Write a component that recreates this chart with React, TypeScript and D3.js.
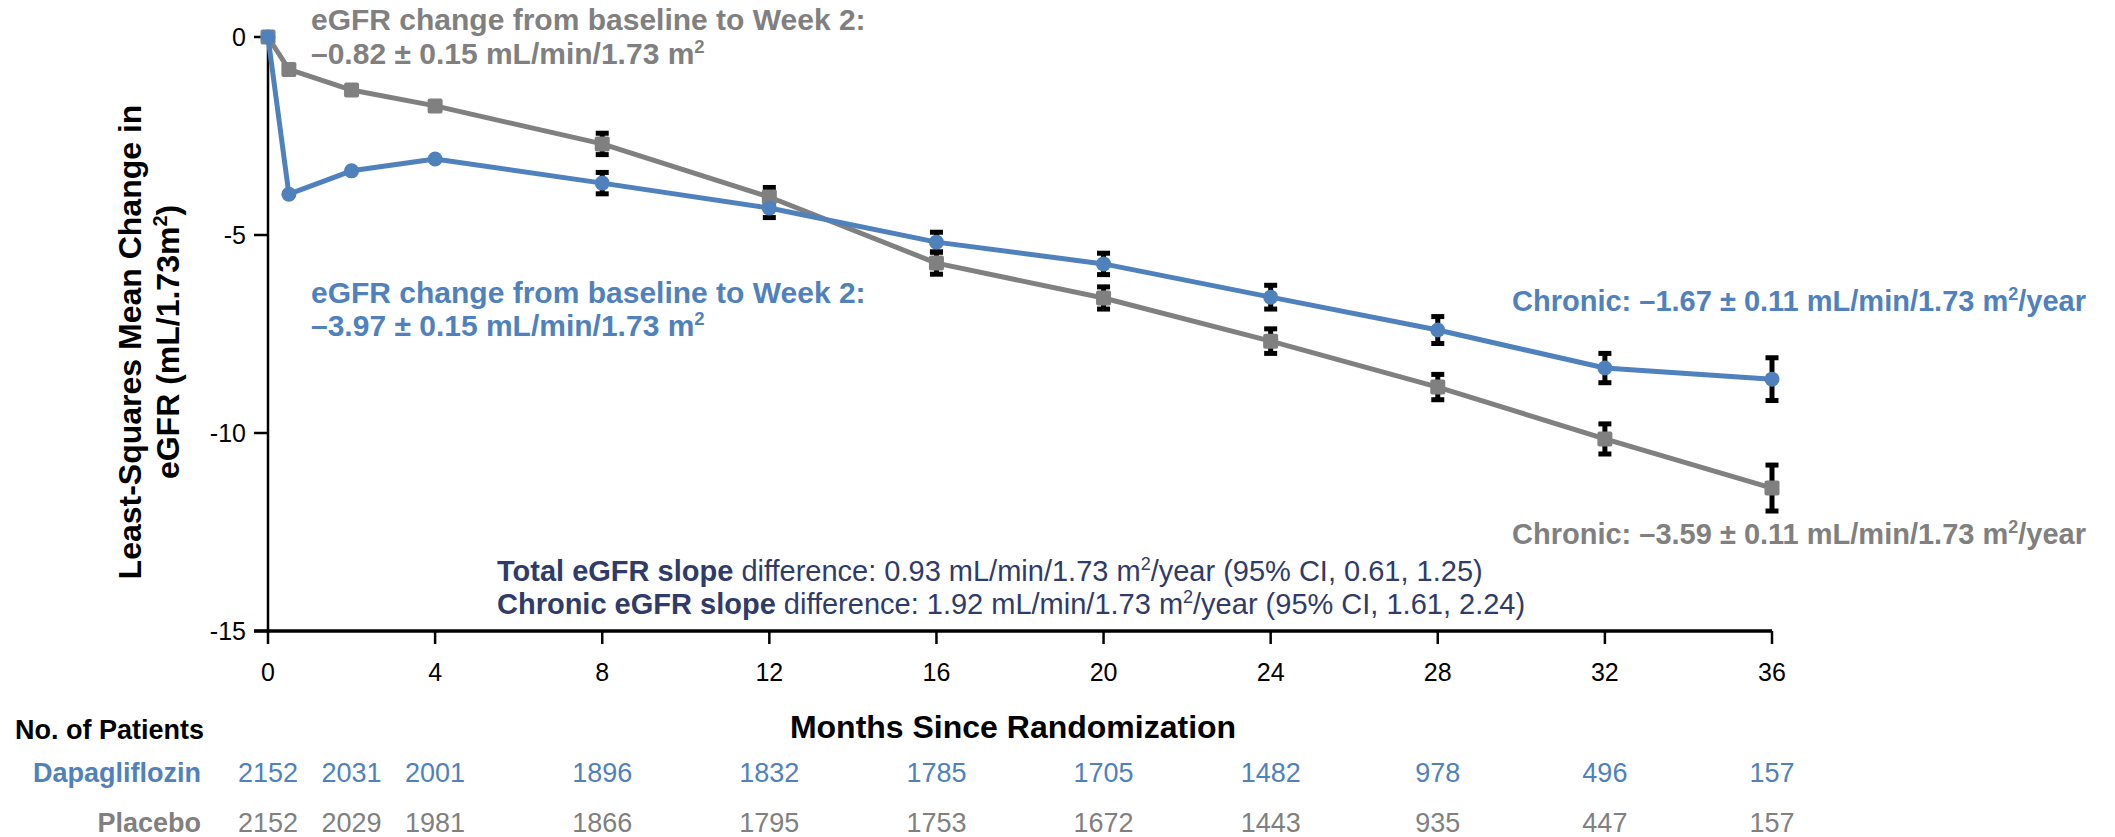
import React from "react";
import * as d3 from "d3";

// Visit months (0.5 = week 2)
const months = [0, 0.5, 2, 4, 8, 12, 16, 20, 24, 28, 32, 36];

// Least-squares mean change in eGFR and error half-widths (0 = no bar shown)
const placeboMean = [0, -0.82, -1.34, -1.74, -2.7, -4.04, -5.71, -6.59, -7.68, -8.84, -10.15, -11.39];
const placeboErr = [0, 0, 0, 0, 0.27, 0.24, 0.28, 0.28, 0.31, 0.32, 0.38, 0.58];
const dapaMean = [0, -3.97, -3.38, -3.08, -3.69, -4.32, -5.18, -5.73, -6.57, -7.4, -8.36, -8.64];
const dapaErr = [0, 0, 0, 0, 0.27, 0.24, 0.25, 0.27, 0.3, 0.34, 0.37, 0.54];

// Axis ticks
const xTicks = [0, 4, 8, 12, 16, 20, 24, 28, 32, 36];
const yTicks = [0, -5, -10, -15];

// Patients at risk
const countMonths = [0, 2, 4, 8, 12, 16, 20, 24, 28, 32, 36];
const dapaCounts = [2152, 2031, 2001, 1896, 1832, 1785, 1705, 1482, 978, 496, 157];
const placeboCounts = [2152, 2029, 1981, 1866, 1795, 1753, 1672, 1443, 935, 447, 157];

const BLUE = "#4F81BD";
const GRAY = "#808080";
const NAVY = "#2F3B68";
const FONT = "'Liberation Sans', Arial, sans-serif";

const W = 2115;
const H = 837;

const x = d3.scaleLinear().domain([0, 36]).range([268, 1772]);
const y = d3.scaleLinear().domain([-15, 0]).range([631, 37]);

type Pt = { m: number; v: number; e: number };
const toPts = (vals: number[], errs: number[]): Pt[] =>
  months.map((m, i) => ({ m, v: vals[i], e: errs[i] }));

const placebo = toPts(placeboMean, placeboErr);
const dapa = toPts(dapaMean, dapaErr);

const line = d3
  .line<Pt>()
  .x((d) => x(d.m))
  .y((d) => y(d.v));

// Superscript "2" followed by the rest of the run back on the baseline
function Sup({ fs, rest }: { fs: number; rest?: string }) {
  const shift = fs * 0.38;
  return (
    <>
      <tspan dy={-shift} fontSize={fs * 0.62}>
        2
      </tspan>
      {rest ? <tspan dy={shift}>{rest}</tspan> : null}
    </>
  );
}

function ErrorBars({ pts }: { pts: Pt[] }) {
  return (
    <g>
      {pts
        .filter((d) => d.e > 0)
        .map((d, i) => {
          const cx = x(d.m);
          const y1 = y(d.v + d.e);
          const y2 = y(d.v - d.e);
          return (
            <g key={i}>
              <line x1={cx} x2={cx} y1={y1} y2={y2} stroke="#000" strokeWidth={5} />
              <rect x={cx - 6.5} y={y1 - 2.5} width={13} height={5} fill="#000" />
              <rect x={cx - 6.5} y={y2 - 2.5} width={13} height={5} fill="#000" />
            </g>
          );
        })}
    </g>
  );
}

export default function App() {
  const annFs = 30;
  const chrFs = 29;
  return (
    <svg
      width={W}
      height={H}
      viewBox={`0 0 ${W} ${H}`}
      style={{ position: "absolute", left: 0, top: 0, background: "#fff" }}
      fontFamily={FONT}
    >
      <rect width={W} height={H} fill="#fff" />

      {/* Y axis */}
      <line x1={x(0)} x2={x(0)} y1={y(0) - 2} y2={y(-15)} stroke="#000" strokeWidth={2.5} />
      {yTicks.map((t) => (
        <g key={t}>
          <line x1={x(0) - 14} x2={x(0)} y1={y(t)} y2={y(t)} stroke="#000" strokeWidth={2.5} />
          <text x={x(0) - 22} y={y(t) + 9} textAnchor="end" fontSize={25} fill="#000">
            {t}
          </text>
        </g>
      ))}

      {/* X axis */}
      <line x1={x(0) - 14} x2={x(36)} y1={y(-15)} y2={y(-15)} stroke="#000" strokeWidth={3.5} />
      {xTicks.map((t) => (
        <g key={t}>
          <line x1={x(t)} x2={x(t)} y1={y(-15)} y2={y(-15) + 13} stroke="#000" strokeWidth={2.5} />
          <text x={x(t)} y={681} textAnchor="middle" fontSize={25} fill="#000">
            {t}
          </text>
        </g>
      ))}

      {/* Axis titles */}
      <text
        transform={`translate(141, 342) rotate(-90)`}
        textAnchor="middle"
        fontSize={32}
        fontWeight="bold"
        fill="#000"
      >
        Least-Squares Mean Change in
      </text>
      <text
        transform={`translate(179, 342) rotate(-90)`}
        textAnchor="middle"
        fontSize={32}
        fontWeight="bold"
        fill="#000"
      >
        eGFR (mL/1.73m
        <Sup fs={32} rest=")" />
      </text>
      <text x={1013} y={738} textAnchor="middle" fontSize={32} fontWeight="bold" fill="#000">
        Months Since Randomization
      </text>

      {/* Error bars under the series */}
      <ErrorBars pts={placebo} />
      <ErrorBars pts={dapa} />

      {/* Placebo series */}
      <path d={line(placebo) ?? ""} fill="none" stroke={GRAY} strokeWidth={5} strokeLinejoin="round" />
      {placebo.map((d, i) => (
        <rect
          key={i}
          x={x(d.m) - 7.5}
          y={y(d.v) - 7.5}
          width={15}
          height={15}
          rx={2}
          fill={GRAY}
        />
      ))}

      {/* Dapagliflozin series */}
      <path d={line(dapa) ?? ""} fill="none" stroke={BLUE} strokeWidth={5} strokeLinejoin="round" />
      {dapa.map((d, i) => (
        <circle key={i} cx={x(d.m)} cy={y(d.v)} r={7.5} fill={BLUE} />
      ))}

      {/* Week 2 annotations */}
      <text x={311} y={30} fontSize={annFs} fontWeight="bold" fill={GRAY}>
        eGFR change from baseline to Week 2:
      </text>
      <text x={311} y={64} fontSize={annFs} fontWeight="bold" fill={GRAY}>
        –0.82 ± 0.15 mL/min/1.73 m<Sup fs={annFs} />
      </text>
      <text x={311} y={303} fontSize={annFs} fontWeight="bold" fill={BLUE}>
        eGFR change from baseline to Week 2:
      </text>
      <text x={311} y={336} fontSize={annFs} fontWeight="bold" fill={BLUE}>
        –3.97 ± 0.15 mL/min/1.73 m<Sup fs={annFs} />
      </text>

      {/* Chronic slopes */}
      <text x={2086} y={311} textAnchor="end" fontSize={chrFs} fontWeight="bold" fill={BLUE}>
        Chronic: –1.67 ± 0.11 mL/min/1.73 m<Sup fs={chrFs} rest="/year" />
      </text>
      <text x={2086} y={544} textAnchor="end" fontSize={chrFs} fontWeight="bold" fill={GRAY}>
        Chronic: –3.59 ± 0.11 mL/min/1.73 m<Sup fs={chrFs} rest="/year" />
      </text>

      {/* Slope differences */}
      <text x={497} y={581} fontSize={chrFs} fill={NAVY}>
        <tspan fontWeight="bold">Total eGFR slope</tspan> difference: 0.93 mL/min/1.73 m
        <Sup fs={chrFs} rest="/year (95% CI, 0.61, 1.25)" />
      </text>
      <text x={497} y={614} fontSize={chrFs} fill={NAVY}>
        <tspan fontWeight="bold">Chronic eGFR slope</tspan> difference: 1.92 mL/min/1.73 m
        <Sup fs={chrFs} rest="/year (95% CI, 1.61, 2.24)" />
      </text>

      {/* Patients at risk table */}
      <text x={15} y={739} fontSize={27} fontWeight="bold" fill="#000">
        No. of Patients
      </text>
      <text x={201} y={782} textAnchor="end" fontSize={27} fontWeight="bold" fill={BLUE}>
        Dapagliflozin
      </text>
      <text x={201} y={832} textAnchor="end" fontSize={27} fontWeight="bold" fill={GRAY}>
        Placebo
      </text>
      {countMonths.map((m, i) => (
        <g key={m}>
          <text x={x(m)} y={782} textAnchor="middle" fontSize={27} fill={BLUE}>
            {dapaCounts[i]}
          </text>
          <text x={x(m)} y={832} textAnchor="middle" fontSize={27} fill={GRAY}>
            {placeboCounts[i]}
          </text>
        </g>
      ))}
    </svg>
  );
}
